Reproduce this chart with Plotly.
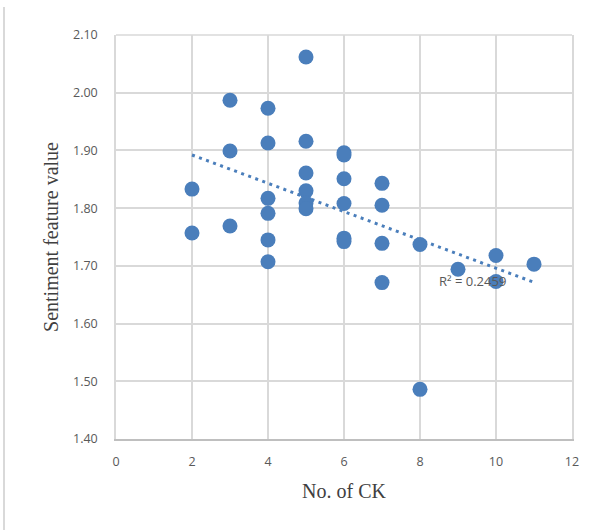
import numpy as np
import plotly.graph_objects as go

# Number of CK per item and the sentiment feature value measured for it
ck_count = [2, 2, 3, 3, 3, 4, 4, 4, 4, 4, 4, 5, 5, 5, 5, 5, 5,
            6, 6, 6, 6, 6, 6, 7, 7, 7, 7, 8, 8, 9, 10, 10, 11]
sentiment = [1.833, 1.757, 1.987, 1.899, 1.769,
             1.973, 1.913, 1.817, 1.791, 1.745, 1.707,
             2.062, 1.916, 1.861, 1.830, 1.809, 1.799,
             1.896, 1.892, 1.851, 1.808, 1.748, 1.742,
             1.843, 1.805, 1.739, 1.671,
             1.737, 1.486, 1.694, 1.718, 1.673, 1.703]
r2_text = "R² = 0.2459"

x_ticks = [0, 2, 4, 6, 8, 10, 12]
y_ticks = [1.40, 1.50, 1.60, 1.70, 1.80, 1.90, 2.00, 2.10]

BLUE = "#4a7ebb"
GRID = "#d9d9d9"
TICK_FONT = dict(family="Open Sans, Liberation Sans, sans-serif", size=12.5, color="#595959")
TITLE_FONT = dict(family="Liberation Serif, Times New Roman, serif", size=20, color="#404040")

# Linear trendline over the observed CK range
xs = np.array(ck_count, dtype=float)
ys = np.array(sentiment, dtype=float)
slope, intercept = np.polyfit(xs, ys, 1)
trend_x = np.array([xs.min(), xs.max()])
trend_y = slope * trend_x + intercept

fig = go.Figure()
fig.add_trace(go.Scatter(
    x=trend_x, y=trend_y, mode="lines",
    line=dict(color=BLUE, width=3, dash="3px,4.5px"),
    hoverinfo="skip", showlegend=False,
))
fig.add_trace(go.Scatter(
    x=ck_count, y=sentiment, mode="markers",
    marker=dict(color=BLUE, size=15, line=dict(width=0)),
    showlegend=False,
))

fig.add_annotation(
    x=9.37, y=1.674, xref="x", yref="y", text=r2_text, showarrow=False,
    font=dict(family="Open Sans, Liberation Sans, sans-serif", size=13, color="#595959"),
)

# Left edge of the chart frame
fig.add_shape(
    type="line", xref="paper", yref="paper",
    x0=-0.2456, x1=-0.2456, y0=-0.23, y1=1.069,
    line=dict(color=GRID, width=2),
)
# Top border of the plot area (gridline at 2.10)
fig.add_shape(
    type="line", xref="paper", yref="paper",
    x0=0, x1=1, y0=1, y1=1,
    line=dict(color=GRID, width=1.5),
)

fig.update_xaxes(
    range=[0, 12], tickvals=x_ticks, ticktext=[str(v) for v in x_ticks],
    showgrid=True, gridcolor=GRID, gridwidth=1.5, zeroline=False,
    showline=True, linecolor="#bfbfbf", linewidth=1.5,
    ticks="", ticklabelstandoff=10, tickfont=TICK_FONT,
    title=dict(text="No. of CK", font=TITLE_FONT, standoff=15),
)
fig.update_yaxes(
    range=[1.40, 2.10], tickvals=y_ticks, ticktext=[f"{v:.2f}" for v in y_ticks],
    showgrid=True, gridcolor=GRID, gridwidth=1.5, zeroline=False,
    showline=True, mirror=True, linecolor=GRID, linewidth=1.5,
    ticks="", ticklabelstandoff=14, tickfont=TICK_FONT,
    title=dict(text="Sentiment feature value", font=TITLE_FONT, standoff=9),
)

fig.update_layout(
    width=605, height=530,
    margin=dict(l=116, r=33, t=35, b=91),
    paper_bgcolor="white", plot_bgcolor="white",
)

fig.write_html("out.html")
